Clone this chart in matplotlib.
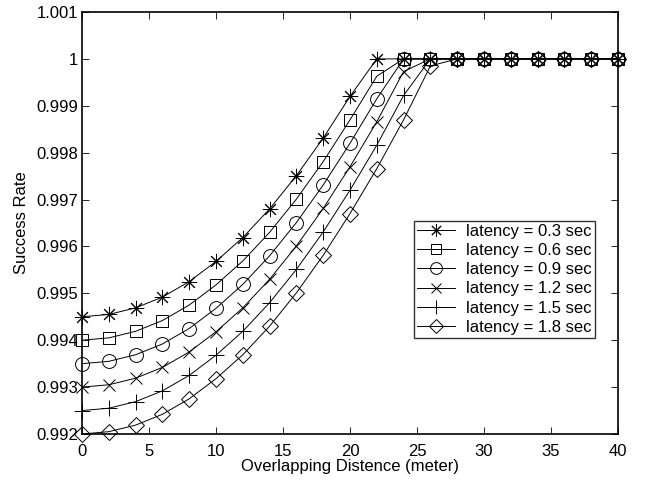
import matplotlib
matplotlib.use("Agg")
import matplotlib.pyplot as plt

plt.rcParams['font.family'] = ['Liberation Sans', 'DejaVu Sans']

distance = [0, 2, 4, 6, 8, 10, 12, 14, 16, 18, 20, 22, 24, 26, 28, 30, 32, 34, 36, 38, 40]

rate_03 = [0.99450, 0.99455, 0.99469, 0.99492, 0.99525, 0.99568, 0.99619, 0.99680, 0.99751, 0.99831,
           0.99920, 1.0, 1.0, 1.0, 1.0, 1.0, 1.0, 1.0, 1.0, 1.0, 1.0]
rate_06 = [0.99400, 0.99405, 0.99419, 0.99442, 0.99475, 0.99518, 0.99569, 0.99630, 0.99701, 0.99781,
           0.99870, 0.99963, 1.0, 1.0, 1.0, 1.0, 1.0, 1.0, 1.0, 1.0, 1.0]
rate_09 = [0.99350, 0.99355, 0.99369, 0.99392, 0.99425, 0.99468, 0.99519, 0.99580, 0.99651, 0.99731,
           0.99820, 0.99915, 1.0, 1.0, 1.0, 1.0, 1.0, 1.0, 1.0, 1.0, 1.0]
rate_12 = [0.99300, 0.99305, 0.99319, 0.99342, 0.99375, 0.99418, 0.99469, 0.99530, 0.99601, 0.99681,
           0.99770, 0.99866, 0.99973, 1.0, 1.0, 1.0, 1.0, 1.0, 1.0, 1.0, 1.0]
rate_15 = [0.99250, 0.99255, 0.99269, 0.99292, 0.99325, 0.99368, 0.99419, 0.99480, 0.99551, 0.99631,
           0.99720, 0.99816, 0.99922, 1.0, 1.0, 1.0, 1.0, 1.0, 1.0, 1.0, 1.0]
rate_18 = [0.99200, 0.99205, 0.99219, 0.99242, 0.99275, 0.99318, 0.99369, 0.99430, 0.99501, 0.99581,
           0.99670, 0.99766, 0.99870, 0.99985, 1.0, 1.0, 1.0, 1.0, 1.0, 1.0, 1.0]

labels = ['latency = 0.3 sec', 'latency = 0.6 sec', 'latency = 0.9 sec',
          'latency = 1.2 sec', 'latency = 1.5 sec', 'latency = 1.8 sec']
series = [rate_03, rate_06, rate_09, rate_12, rate_15, rate_18]
markers = [(8, 2, 0), 's', 'o', 'x', '+', 'D']
msizes = [11, 9, 10, 9, 12, 8]

x_ticks = [0, 5, 10, 15, 20, 25, 30, 35, 40]
y_ticks = [0.992, 0.993, 0.994, 0.995, 0.996, 0.997, 0.998, 0.999, 1.0, 1.001]
y_ticklabels = ['0.992', '0.993', '0.994', '0.995', '0.996', '0.997', '0.998', '0.999', '1', '1.001']

fig = plt.figure(figsize=(6.48, 4.82), dpi=100)
ax = fig.add_axes([82/648, 1-434/482, 536/648, 422/482])

for ys, lab, mk, ms in zip(series, labels, markers, msizes):
    ax.plot(distance, ys, color='black', linewidth=0.7, marker=mk, markersize=ms,
            markerfacecolor='none', markeredgecolor='black', markeredgewidth=0.7,
            label=lab, clip_on=False)

ax.set_xlim(0, 40)
ax.set_ylim(0.992, 1.001)
ax.set_xticks(x_ticks)
ax.set_xticklabels([str(t) for t in x_ticks])
ax.set_yticks(y_ticks)
ax.set_yticklabels(y_ticklabels)
ax.tick_params(direction='in', top=True, right=True, length=5, width=0.6,
               labelsize=12)
ax.tick_params(axis='x', pad=7)
ax.tick_params(axis='y', pad=3)
for s in ax.spines.values():
    s.set_linewidth(1.2)

ax.set_xlabel('Overlapping Distence (meter)', fontsize=12, labelpad=0)
ax.set_ylabel('Success Rate', fontsize=12, labelpad=5)

leg = ax.legend(loc='lower right', bbox_to_anchor=((595-82)/536, (434-338)/422),
                fontsize=12, frameon=True, fancybox=False, borderaxespad=0,
                handlelength=2.3, labelspacing=0.25, borderpad=0.2, handletextpad=0.65,
                markerscale=0.85)
leg.get_frame().set_edgecolor('black')
leg.get_frame().set_linewidth(1.0)

fig.savefig('out.png', dpi=100)
